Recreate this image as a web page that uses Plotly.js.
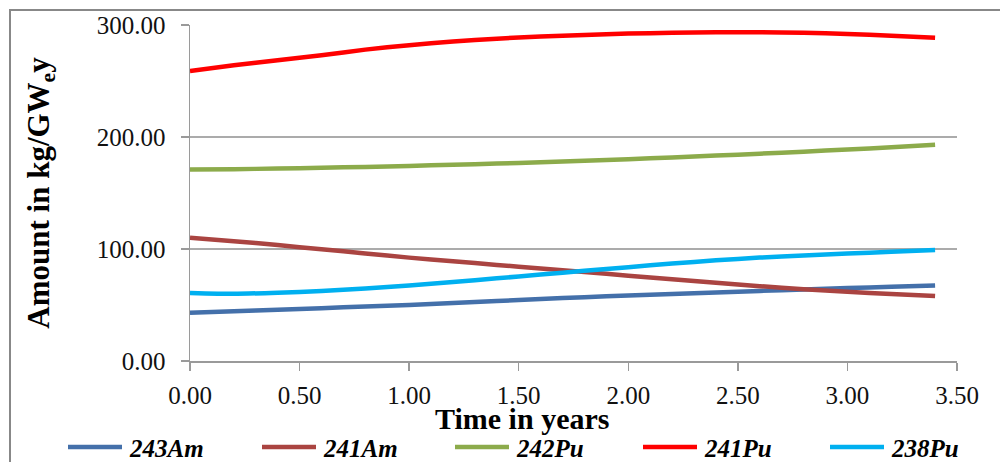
<!DOCTYPE html>
<html>
<head>
<meta charset="utf-8">
<script src="https://cdn.plot.ly/plotly-3.0.1.min.js"></script>
<style>html,body{margin:0;padding:0;background:#fff;}#chart{width:1000px;height:462px;}</style>
</head>
<body>
<div id="chart"></div>
<script>
const years = [0, 0.2, 0.4, 0.6, 0.8, 1.0, 1.2, 1.4, 1.6, 1.8, 2.0, 2.2, 2.4, 2.6, 2.8, 3.0, 3.2, 3.4];
const am243 = [43, 44.4, 45.8, 47.2, 48.6, 50, 51.8, 53.5, 55.3, 57, 58.4, 59.8, 61.2, 62.6, 63.9, 65.1, 66.3, 67.4];
const am241 = [110, 107, 103.5, 99.8, 96, 92.3, 89, 85.8, 82.6, 79.4, 76.2, 73, 69.8, 66.8, 64, 61.8, 59.8, 58];
const pu242 = [171, 171.3, 171.8, 172.5, 173.3, 174.2, 175.2, 176.3, 177.5, 178.8, 180.2, 181.8, 183.4, 185.1, 186.9, 188.8, 190.8, 193];
const pu241 = [259, 264, 268.6, 273, 278, 282, 285.3, 287.8, 289.7, 291.1, 292.3, 293, 293.5, 293.5, 293, 292, 290.5, 288.7];
const pu238 = [60.8, 60, 61, 62.5, 64.8, 67.5, 70.5, 73.8, 77.2, 80.5, 83.8, 87, 89.9, 92.3, 94.3, 96, 97.5, 99];
const seriesNames = ['243Am', '241Am', '242Pu', '241Pu', '238Pu'];
const seriesData = [am243, am241, pu242, pu241, pu238];
const seriesColors = ['#4470AA', '#AA4441', '#8CAB4B', '#FF0000', '#00B0F0'];
const xTickVals = [0, 0.5, 1, 1.5, 2, 2.5, 3, 3.5];
const yTickVals = [0, 100, 200, 300];

const traces = seriesNames.map((n, i) => ({
  x: years, y: seriesData[i], name: n, type: 'scatter', mode: 'lines',
  showlegend: false,
  line: {color: seriesColors[i], width: 4.5, shape: 'spline', smoothing: 0.6}
}));

const serif = 'Liberation Serif';
// layout geometry (pixels) for the plot area
const PL = 190, PR = 957, PT = 25, PB = 361;
const px2x = p => (p - PL) / (PR - PL);
const px2y = p => (PB - p) / (PB - PT);

// custom legend: sample line start positions and row height (pixels)
const legendStarts = [68, 262, 455, 643, 830];
const legendLineLen = 54;
const legendRowY = 447;

const shapes = [{
  type: 'rect', xref: 'paper', yref: 'paper',
  x0: px2x(10), x1: px2x(1010), y0: px2y(475), y1: px2y(10),
  line: {color: '#888888', width: 2}, layer: 'below'
}];
const annotations = [{
  text: 'Time in years', xref: 'paper', yref: 'paper',
  x: px2x(522), y: px2y(418), xanchor: 'center', yanchor: 'middle', showarrow: false,
  font: {family: serif, size: 30, weight: 'bold', color: '#000'}
}];
seriesNames.forEach((n, i) => {
  const s = legendStarts[i];
  shapes.push({
    type: 'line', xref: 'paper', yref: 'paper',
    x0: px2x(s), x1: px2x(s + legendLineLen), y0: px2y(legendRowY), y1: px2y(legendRowY),
    line: {color: seriesColors[i], width: 4.5}
  });
  annotations.push({
    text: n, xref: 'paper', yref: 'paper',
    x: px2x(s + legendLineLen + 5), y: px2y(legendRowY + 1), xanchor: 'left', yanchor: 'middle',
    showarrow: false,
    font: {family: serif, size: 25, weight: 'bold', style: 'italic', color: '#000'}
  });
});

const layout = {
  width: 1000, height: 462,
  margin: {l: PL, r: 1000 - PR, t: PT, b: 462 - PB},
  paper_bgcolor: '#fff', plot_bgcolor: '#fff',
  font: {family: serif, color: '#000'},
  showlegend: false,
  xaxis: {
    range: [0, 3.5], tickvals: xTickVals, tickformat: '.2f',
    showgrid: false, zeroline: false,
    showline: true, linecolor: '#9A9A9A', linewidth: 1.5,
    ticks: 'outside', ticklen: 8, tickcolor: '#9A9A9A', tickwidth: 1.5,
    tickfont: {family: serif, size: 25, color: '#111'},
    ticklabelstandoff: 3,
    automargin: false
  },
  yaxis: {
    range: [0, 300], tickvals: yTickVals, tickformat: '.2f',
    showgrid: true, gridcolor: '#ABABAB', gridwidth: 1.5, zeroline: false,
    showline: true, linecolor: '#9A9A9A', linewidth: 1.5,
    ticks: 'outside', ticklen: 8, tickcolor: '#9A9A9A', tickwidth: 1.5,
    tickfont: {family: serif, size: 25, color: '#111'},
    ticklabelstandoff: 10,
    title: {text: 'Amount in kg/GW<sub>e</sub>y', font: {family: serif, size: 31, weight: 'bold', color: '#000'}, standoff: 38},
    automargin: false
  },
  shapes: shapes,
  annotations: annotations
};

Plotly.newPlot('chart', traces, layout, {displayModeBar: false, staticPlot: true});
</script>
</body>
</html>
